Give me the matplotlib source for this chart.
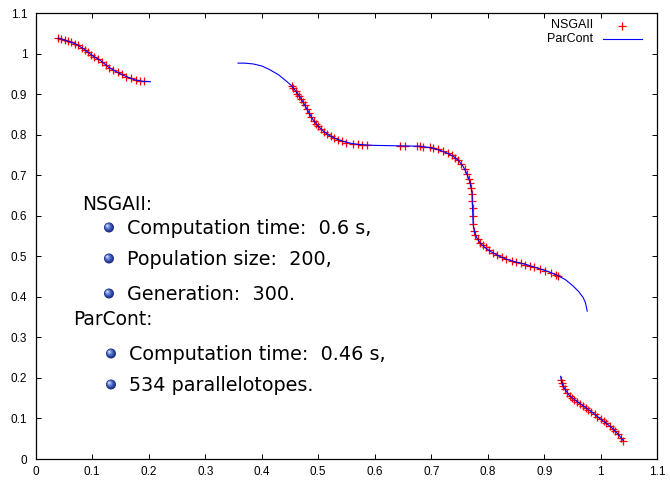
import matplotlib
matplotlib.use("Agg")
import matplotlib.pyplot as plt

# ParCont: continuous Pareto front pieces
parcont_x1 = [0.040, 0.055, 0.070, 0.085, 0.100, 0.115, 0.130, 0.145, 0.160, 0.175, 0.190, 0.203]
parcont_y1 = [1.039, 1.032, 1.025, 1.012, 0.996, 0.983, 0.966, 0.954, 0.944, 0.936, 0.932, 0.931]

parcont_x2 = [0.358, 0.370, 0.385, 0.400, 0.414, 0.430, 0.444, 0.453, 0.460, 0.467, 0.473, 0.479,
              0.485, 0.491, 0.497, 0.503, 0.510, 0.520, 0.532, 0.544, 0.558, 0.573, 0.600, 0.640,
              0.680, 0.700, 0.715, 0.728, 0.739, 0.748, 0.756, 0.762, 0.768, 0.771, 0.772, 0.773,
              0.774, 0.775, 0.777, 0.781, 0.786, 0.794, 0.804, 0.818, 0.833, 0.850, 0.868, 0.886,
              0.904, 0.924, 0.938, 0.951, 0.961, 0.969, 0.973, 0.976]
parcont_y2 = [0.977, 0.977, 0.975, 0.970, 0.961, 0.948, 0.932, 0.921, 0.908, 0.895, 0.881, 0.866,
              0.851, 0.837, 0.826, 0.817, 0.808, 0.798, 0.790, 0.784, 0.779, 0.776, 0.774, 0.773,
              0.772, 0.768, 0.762, 0.755, 0.747, 0.737, 0.723, 0.707, 0.686, 0.667, 0.657, 0.620,
              0.583, 0.570, 0.558, 0.545, 0.534, 0.523, 0.513, 0.502, 0.493, 0.486, 0.480, 0.472,
              0.464, 0.453, 0.442, 0.427, 0.413, 0.398, 0.385, 0.365]

parcont_x3 = [0.929, 0.931, 0.935, 0.940, 0.945, 0.955, 0.969, 0.985, 0.998, 1.010, 1.022, 1.032, 1.040]
parcont_y3 = [0.204, 0.188, 0.176, 0.165, 0.156, 0.145, 0.131, 0.115, 0.100, 0.088, 0.074, 0.059, 0.045]

# NSGAII: final population
nsga_x = [0.040, 0.045, 0.052, 0.058, 0.063, 0.070, 0.075, 0.082, 0.088, 0.093, 0.098, 0.104,
          0.110, 0.117, 0.124, 0.130, 0.137, 0.145, 0.152, 0.160, 0.168, 0.178, 0.185, 0.192,
          0.453, 0.456, 0.460, 0.463, 0.466, 0.470, 0.473, 0.476, 0.480, 0.484, 0.488, 0.492,
          0.496, 0.500, 0.505, 0.510, 0.516, 0.522, 0.528, 0.535, 0.542, 0.550, 0.562, 0.570,
          0.577, 0.586,
          0.644, 0.653, 0.674, 0.680, 0.686, 0.697, 0.703, 0.712, 0.721, 0.730, 0.736, 0.742,
          0.747, 0.753, 0.759, 0.763, 0.767, 0.769,
          0.771, 0.772, 0.772, 0.773, 0.773, 0.774, 0.775, 0.778,
          0.782, 0.787, 0.792, 0.797, 0.803, 0.810, 0.817, 0.825, 0.833, 0.842, 0.850, 0.858,
          0.866, 0.874, 0.882, 0.892, 0.902, 0.912, 0.920, 0.925,
          0.929, 0.931, 0.934, 0.937, 0.941, 0.945, 0.949, 0.953, 0.958, 0.963, 0.968, 0.973,
          0.978, 0.983, 0.989, 0.994, 1.000, 1.005, 1.010, 1.016, 1.021, 1.026, 1.031, 1.036,
          1.040]
nsga_y = [1.039, 1.037, 1.034, 1.031, 1.028, 1.025, 1.021, 1.015, 1.009, 1.004, 0.998, 0.993,
          0.988, 0.980, 0.973, 0.966, 0.960, 0.954, 0.949, 0.944, 0.940, 0.935, 0.933, 0.932,
          0.921, 0.916, 0.908, 0.902, 0.897, 0.889, 0.881, 0.874, 0.864, 0.854, 0.844, 0.835,
          0.828, 0.821, 0.815, 0.808, 0.802, 0.797, 0.793, 0.788, 0.785, 0.781, 0.778, 0.777,
          0.776, 0.775,
          0.773, 0.773, 0.772, 0.772, 0.771, 0.769, 0.767, 0.764, 0.759, 0.754, 0.750, 0.744,
          0.739, 0.729, 0.716, 0.704, 0.690, 0.680,
          0.668, 0.655, 0.636, 0.620, 0.600, 0.579, 0.562, 0.552,
          0.543, 0.534, 0.527, 0.522, 0.515, 0.509, 0.503, 0.498, 0.493, 0.489, 0.486, 0.483,
          0.480, 0.477, 0.474, 0.469, 0.465, 0.460, 0.455, 0.452,
          0.196, 0.188, 0.180, 0.172, 0.164, 0.156, 0.151, 0.146, 0.141, 0.135, 0.131, 0.126,
          0.121, 0.116, 0.110, 0.104, 0.098, 0.093, 0.088, 0.081, 0.075, 0.068, 0.061, 0.052,
          0.045]

tick_values = [0.0, 0.1, 0.2, 0.3, 0.4, 0.5, 0.6, 0.7, 0.8, 0.9, 1.0, 1.1]
tick_labels = ["0", "0.1", "0.2", "0.3", "0.4", "0.5", "0.6", "0.7", "0.8", "0.9", "1", "1.1"]

legend_labels = ["NSGAII", "ParCont"]

notes = [
    ("head", "NSGAII:"),
    ("item", "Computation time:  0.6 s,"),
    ("item", "Population size:  200,"),
    ("item", "Generation:  300."),
    ("head", "ParCont:"),
    ("item", "Computation time:  0.46 s,"),
    ("item", "534 parallelotopes."),
]

W, H = 670, 480
RED = "#ff0000"
BLUE = "#0000ff"

fig = plt.figure(figsize=(W / 100, H / 100), dpi=100)
left_px, right_px, top_px, bottom_px = 35.7, 657.3, 13.3, 459.0
ax = fig.add_axes([left_px / W, 1 - bottom_px / H,
                   (right_px - left_px) / W, (bottom_px - top_px) / H])

ax.plot(nsga_x, nsga_y, linestyle="none", marker="+", markersize=6,
        markeredgewidth=0.9, color=RED, zorder=2)
for xs, ys in [(parcont_x1, parcont_y1), (parcont_x2, parcont_y2), (parcont_x3, parcont_y3)]:
    ax.plot(xs, ys, color=BLUE, linewidth=0.8, zorder=3)

ax.set_xlim(0, 1.1)
ax.set_ylim(0, 1.1)
ax.set_xticks(tick_values)
ax.set_xticklabels(tick_labels)
ax.set_yticks(tick_values)
ax.set_yticklabels(tick_labels)
ax.tick_params(direction="in", length=3.8, width=0.7, top=True, right=True,
               labelsize=8.5, colors="black")
ax.tick_params(axis="x", pad=5.0)
ax.tick_params(axis="y", pad=6.0)
for lab in ax.get_xticklabels() + ax.get_yticklabels():
    lab.set_family("Liberation Sans")
for sp in ax.spines.values():
    sp.set_linewidth(0.9)

# overlay in pixel coordinates for the key and the notes
ov = fig.add_axes([0, 0, 1, 1], facecolor="none")
ov.set_xlim(0, W)
ov.set_ylim(H, 0)
ov.axis("off")

# key
ov.text(593.5, 25.5, legend_labels[0], ha="right", va="center", fontsize=9,
        family="Liberation Sans")
ov.plot([621.7], [25.7], marker="+", markersize=6, markeredgewidth=0.9, color=RED)
ov.text(593.5, 39.5, legend_labels[1], ha="right", va="center", fontsize=9,
        family="Liberation Sans")
ov.plot([603.3, 641.7], [39.3, 39.3], color=BLUE, linewidth=0.8)


def ball(x, y):
    # shaded sphere bullet
    layers = [(10.0, "#1f2f80", 0.0), (8.4, "#2c43a0", -0.4), (6.8, "#4562bd", -0.8),
              (5.0, "#6d88d6", -1.2), (3.2, "#9fb3e8", -1.5), (1.6, "#d2dcf6", -1.8)]
    for d, c, off in layers:
        ov.scatter([x + off], [y + off], s=(d * 0.72) ** 2, color=c,
                   edgecolors="none", zorder=5)


baselines = [210, 234, 265, 300, 325, 360, 391]
group = 0
for (kind, txt), yb in zip(notes, baselines):
    if kind == "head":
        x0 = 82.5 if group == 0 else 73.3
        group += 1
        ov.text(x0, yb, txt, ha="left", va="baseline", fontsize=13.4,
                family="DejaVu Sans")
    else:
        bx = 109.0 if group == 1 else 111.0
        tx = 127.0 if group == 1 else 129.0
        ball(bx, yb - 6.5)
        ov.text(tx, yb, txt, ha="left", va="baseline", fontsize=13.8,
                family="DejaVu Sans")

fig.savefig("out.png", dpi=100)
